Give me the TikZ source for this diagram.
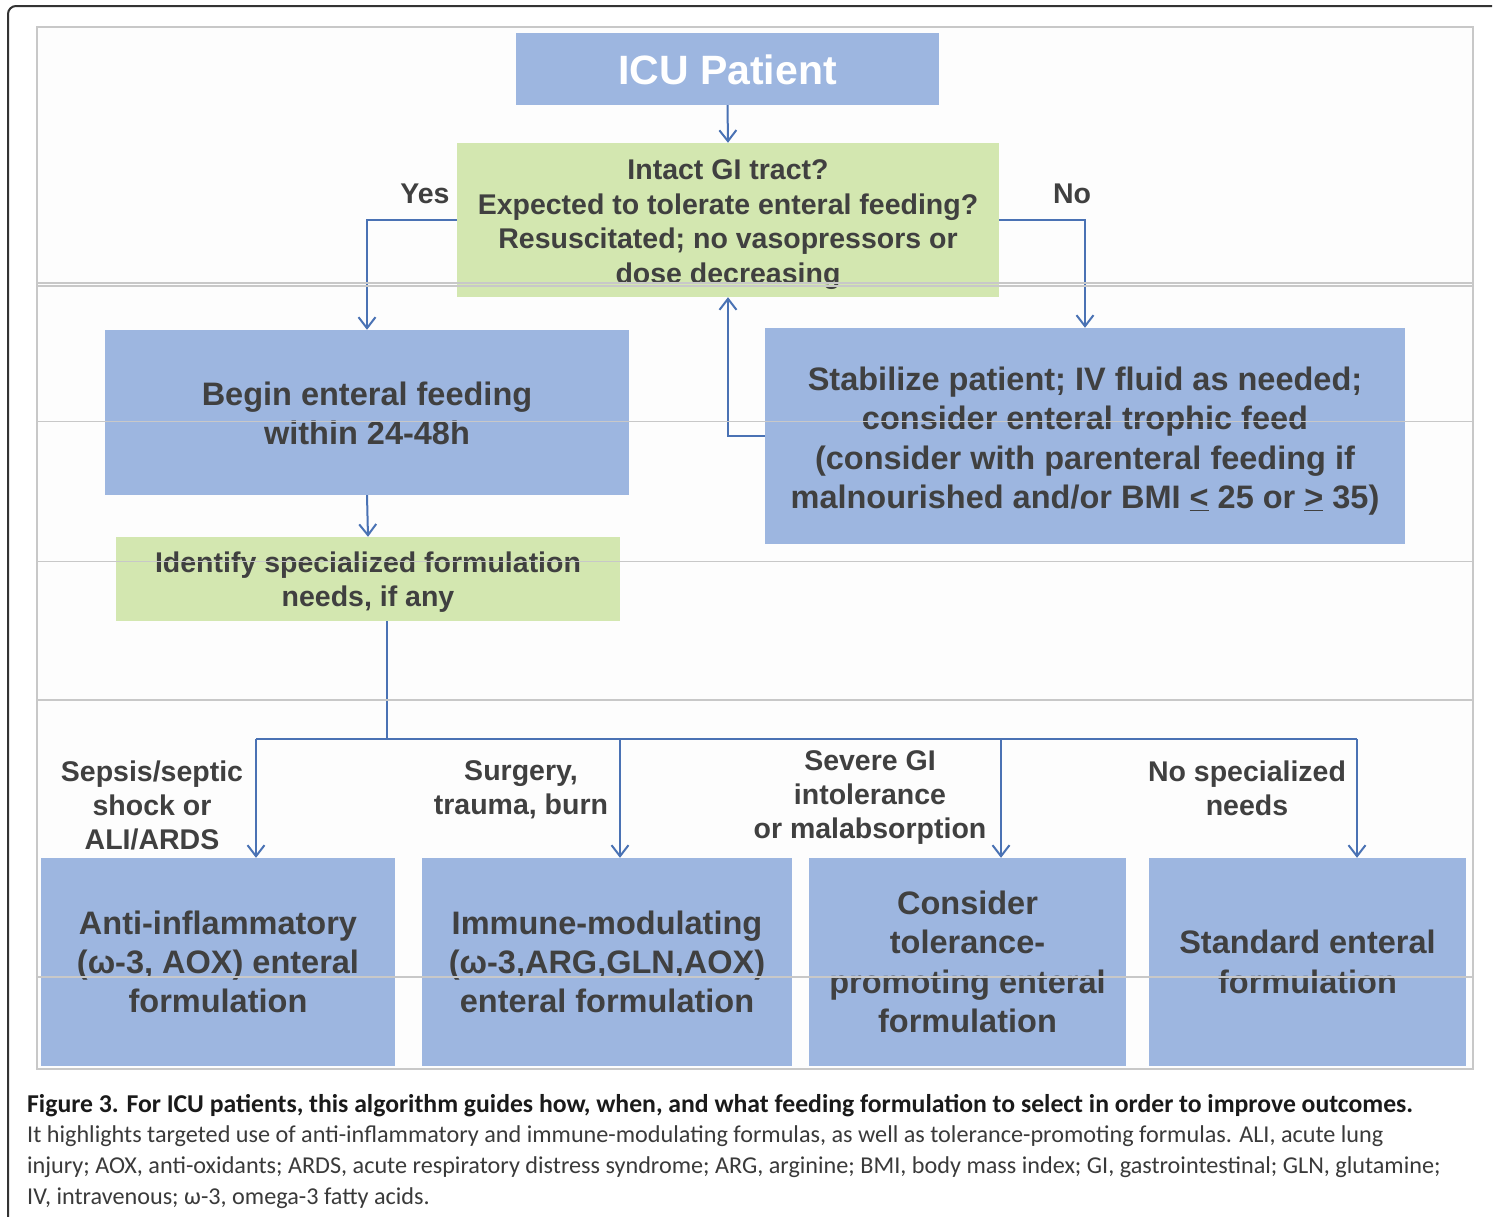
\documentclass[tikz,border=0pt]{standalone}
\usepackage{fontspec}
\setmainfont{Liberation Sans}
\newfontfamily\capfont{Carlito}
\usetikzlibrary{arrows.meta}
\definecolor{boxblue}{HTML}{9DB6E0}
\definecolor{boxgreen}{HTML}{D3E7B0}
\definecolor{linkblue}{HTML}{4A72B4}
\definecolor{txt}{HTML}{404040}
\definecolor{rulegray}{HTML}{C8C8C8}
\definecolor{panelbg}{HTML}{FDFDFD}
\definecolor{framegray}{HTML}{333333}
\definecolor{capbold}{HTML}{1A1A1A}
\definecolor{captxt}{HTML}{3A3A3A}
\newcommand{\topstrut}[1]{\rule{0pt}{#1}}
\begin{document}
\begin{tikzpicture}[x=1pt,y=-1pt,
  box/.style={draw=none, text=txt, align=center, inner sep=0pt},
  bluebox/.style={box, fill=boxblue},
  greenbox/.style={box, fill=boxgreen},
  bigtext/.style={font=\bfseries\fontsize{32.5}{39.5}\selectfont},
  midtext/.style={font=\bfseries\fontsize{28.5}{34.7}\selectfont},
  lbl/.style={text=txt, align=center, inner sep=0pt, font=\bfseries\fontsize{28.5}{34}\selectfont},
  line/.style={draw=linkblue, line width=2pt},
  link/.style={line, -{Straight Barb[length=11pt,width=17pt,line width=2pt]}},
  rule/.style={draw=rulegray, line width=1.2pt},
  capA/.style={anchor=base west, inner sep=0pt, text=capbold, font=\capfont\bfseries\fontsize{25.7}{28}\selectfont},
  capB/.style={anchor=base west, inner sep=0pt, text=captxt, font=\capfont\fontsize{24.2}{28}\selectfont}
]
\useasboundingbox (0,0) rectangle (1497,1216);
\fill[white] (0,0) rectangle (1497,1216);
% outer frame
\draw[framegray, line width=2pt, rounded corners=8pt] (8,1220) -- (8,6) -- (1492,6);
% panel
\draw[rulegray, line width=1.2pt, fill=panelbg] (37,27) rectangle (1473,1069);

% boxes
\node[bluebox, minimum width=423pt, minimum height=72pt, text=white,
      font=\bfseries\fontsize{41}{48}\selectfont] (icu) at (727.5,69) {\topstrut{32pt}ICU Patient};
\node[greenbox, midtext, minimum width=542pt, minimum height=154pt] (q) at (728,220)
  {\topstrut{29pt}Intact GI tract?\\Expected to tolerate enteral feeding?\\Resuscitated; no vasopressors or\\dose decreasing};
\node[bluebox, bigtext, minimum width=524pt, minimum height=165pt] (begin) at (367,412.5)
  {\topstrut{25.7pt}Begin enteral feeding\\within 24-48h};
\node[bluebox, bigtext, minimum width=640pt, minimum height=216pt] (stab) at (1085,436)
  {\topstrut{33.5pt}Stabilize patient; IV fluid as needed;\\consider enteral trophic feed\\(consider with parenteral feeding if\\malnourished and/or BMI \underline{<} 25 or \underline{>} 35)};
\node[greenbox, midtext, minimum width=504pt, minimum height=84pt] (ident) at (368,579)
  {\topstrut{27pt}Identify specialized formulation\\needs, if any};

\node[bluebox, font=\bfseries\fontsize{32.5}{39}\selectfont, minimum width=354pt, minimum height=208pt] (b1) at (218,962)
  {Anti-inflammatory\\(ω-3, AOX) enteral\\formulation};
\node[bluebox, font=\bfseries\fontsize{32.5}{39}\selectfont, minimum width=370pt, minimum height=208pt] (b2) at (607,962)
  {Immune-modulating\\(ω-3,ARG,GLN,AOX)\\enteral formulation};
\node[bluebox, font=\bfseries\fontsize{32.5}{39.3}\selectfont, minimum width=317pt, minimum height=208pt] (b3) at (967.5,962)
  {Consider\\tolerance-\\promoting enteral\\formulation};
\node[bluebox, font=\bfseries\fontsize{32.5}{40}\selectfont, minimum width=317pt, minimum height=208pt] (b4) at (1307.5,962)
  {Standard enteral\\formulation};

% labels
\node[lbl] (yes) at (425,194) {Yes};
\node[lbl] (no) at (1072,194) {No};
\node[lbl] (l1) at (152,805) {Sepsis/septic\\shock or\\ALI/ARDS};
\node[lbl] (l2) at (521,790) {Surgery,\\trauma, burn};
\node[lbl] (l3) at (870,797) {Severe GI\\intolerance\\or malabsorption};
\node[lbl] (l4) at (1247,788.5) {No specialized\\needs};

% connectors
\draw[link] (icu.south) -- (q.north);
\draw[link] (q.west) -| (begin.north);
\draw[link] (q.east) -| (stab.north);
\draw[link] (stab.west) -| (q.south);
\draw[link] (begin.south) -- (ident.north);
\coordinate (j) at (387,739);
\coordinate (t1) at (256,739);
\coordinate (t2) at (620,739);
\coordinate (t3) at (1001,739);
\coordinate (t4) at (1357,739);
\draw[line] (ident.south -| j) -- (j);
\draw[line] (t1) -- (t4);
\draw[link] (t1) -- (t1 |- b1.north);
\draw[link] (t2) -- (t2 |- b2.north);
\draw[link] (t3) -- (t3 |- b3.north);
\draw[link] (t4) -- (t4 |- b4.north);

% stripe rules drawn over everything
\foreach \yy in {283,286,421.5,561.5,700,977}
  \draw[rule] (37,\yy) -- (1473,\yy);

% caption
\node[capA] (c1) at (27,1112) {Figure 3. For ICU patients, this algorithm guides how, when, and what feeding formulation to select in order to improve outcomes.};
\node[capB] (c2) at (27,1142) {It highlights targeted use of anti-inflammatory and immune-modulating formulas, as well as tolerance-promoting formulas. ALI, acute lung};
\node[capB] (c3) at (27,1173) {injury; AOX, anti-oxidants; ARDS, acute respiratory distress syndrome; ARG, arginine; BMI, body mass index; GI, gastrointestinal; GLN, glutamine;};
\node[capB] (c4) at (27,1204) {IV, intravenous; ω-3, omega-3 fatty acids.};
\end{tikzpicture}
\end{document}
